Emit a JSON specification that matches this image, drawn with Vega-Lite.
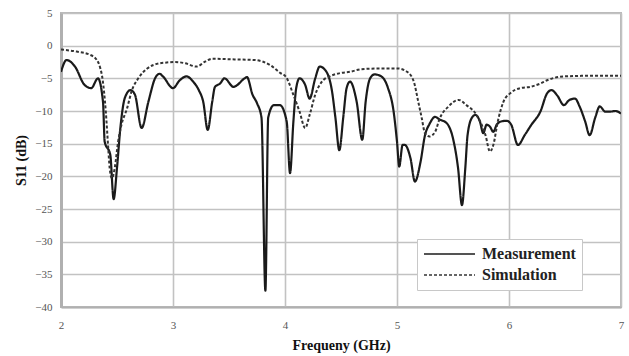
{
  "$schema": "https://vega.github.io/schema/vega-lite/v6.json",
  "width": 560,
  "height": 294,
  "autosize": "none",
  "padding": {"left": 61, "top": 13, "right": 8, "bottom": 49},
  "background": "white",
  "config": {
    "font": "Liberation Serif",
    "view": {"stroke": "#b8b8b8", "strokeWidth": 2},
    "axis": {
      "gridColor": "#c2c2c2",
      "gridWidth": 1.6,
      "gridOpacity": 1,
      "ticks": false,
      "domainColor": "#b0b0b0",
      "domainWidth": 3,
      "labelFont": "Liberation Serif",
      "labelFontSize": 11,
      "labelColor": "#555555",
      "labelOverlap": false,
      "labelFlush": false,
      "titleFont": "Liberation Serif",
      "titleFontSize": 14,
      "titleFontWeight": "bold",
      "titleColor": "#111111"
    }
  },
  "datasets": {
    "meas": [
      {"f": 2.00, "s": -4.0}, {"f": 2.05, "s": -2.2}, {"f": 2.125, "s": -3.2}, {"f": 2.21, "s": -6.0},
      {"f": 2.27, "s": -6.5}, {"f": 2.33, "s": -5.0}, {"f": 2.375, "s": -8.6}, {"f": 2.39, "s": -14.7},
      {"f": 2.44, "s": -16.7}, {"f": 2.47, "s": -23.5}, {"f": 2.50, "s": -18.7}, {"f": 2.53, "s": -12.6},
      {"f": 2.57, "s": -8.0}, {"f": 2.62, "s": -6.8}, {"f": 2.66, "s": -7.5}, {"f": 2.72, "s": -12.6},
      {"f": 2.78, "s": -8.6}, {"f": 2.84, "s": -5.0}, {"f": 2.88, "s": -4.3}, {"f": 2.91, "s": -4.7},
      {"f": 3.00, "s": -6.5}, {"f": 3.06, "s": -5.3}, {"f": 3.12, "s": -4.7}, {"f": 3.18, "s": -5.5},
      {"f": 3.23, "s": -6.8}, {"f": 3.27, "s": -8.6}, {"f": 3.31, "s": -12.9}, {"f": 3.35, "s": -8.6},
      {"f": 3.375, "s": -6.3}, {"f": 3.42, "s": -5.8}, {"f": 3.46, "s": -5.0}, {"f": 3.54, "s": -6.3},
      {"f": 3.64, "s": -5.0}, {"f": 3.66, "s": -4.8}, {"f": 3.71, "s": -7.5}, {"f": 3.75, "s": -8.8},
      {"f": 3.79, "s": -11.0}, {"f": 3.825, "s": -37.5}, {"f": 3.85, "s": -11.0}, {"f": 3.90, "s": -9.1},
      {"f": 3.955, "s": -9.1}, {"f": 4.015, "s": -11.6}, {"f": 4.045, "s": -19.5}, {"f": 4.075, "s": -11.6},
      {"f": 4.10, "s": -6.5}, {"f": 4.13, "s": -5.0}, {"f": 4.18, "s": -6.0}, {"f": 4.22, "s": -8.1},
      {"f": 4.27, "s": -5.0}, {"f": 4.31, "s": -3.2}, {"f": 4.37, "s": -4.0}, {"f": 4.42, "s": -7.0},
      {"f": 4.45, "s": -11.0}, {"f": 4.485, "s": -16.0}, {"f": 4.52, "s": -11.0}, {"f": 4.55, "s": -6.5},
      {"f": 4.58, "s": -5.5}, {"f": 4.64, "s": -8.6}, {"f": 4.69, "s": -14.4}, {"f": 4.72, "s": -8.6},
      {"f": 4.76, "s": -5.0}, {"f": 4.80, "s": -4.4}, {"f": 4.86, "s": -4.7}, {"f": 4.92, "s": -6.5},
      {"f": 4.97, "s": -10.1}, {"f": 5.00, "s": -14.7}, {"f": 5.02, "s": -18.5}, {"f": 5.05, "s": -15.2},
      {"f": 5.07, "s": -15.2}, {"f": 5.12, "s": -17.2}, {"f": 5.16, "s": -20.8}, {"f": 5.21, "s": -17.8},
      {"f": 5.25, "s": -13.7}, {"f": 5.29, "s": -12.0}, {"f": 5.34, "s": -10.9}, {"f": 5.38, "s": -11.3},
      {"f": 5.44, "s": -11.8}, {"f": 5.50, "s": -14.2}, {"f": 5.545, "s": -18.7}, {"f": 5.58, "s": -24.4},
      {"f": 5.61, "s": -18.7}, {"f": 5.63, "s": -13.7}, {"f": 5.67, "s": -11.0}, {"f": 5.70, "s": -10.6},
      {"f": 5.74, "s": -11.6}, {"f": 5.77, "s": -13.4}, {"f": 5.80, "s": -12.1}, {"f": 5.83, "s": -12.4},
      {"f": 5.86, "s": -13.2}, {"f": 5.89, "s": -12.1}, {"f": 5.93, "s": -11.6}, {"f": 5.98, "s": -11.5},
      {"f": 6.02, "s": -12.1}, {"f": 6.08, "s": -15.2}, {"f": 6.14, "s": -13.7}, {"f": 6.20, "s": -12.1},
      {"f": 6.28, "s": -10.1}, {"f": 6.34, "s": -7.3}, {"f": 6.38, "s": -6.8}, {"f": 6.43, "s": -7.6},
      {"f": 6.49, "s": -9.1}, {"f": 6.54, "s": -8.3}, {"f": 6.59, "s": -8.1}, {"f": 6.63, "s": -9.3},
      {"f": 6.68, "s": -11.6}, {"f": 6.72, "s": -13.7}, {"f": 6.77, "s": -11.0}, {"f": 6.81, "s": -9.3},
      {"f": 6.86, "s": -10.1}, {"f": 6.90, "s": -10.1}, {"f": 6.95, "s": -10.0}, {"f": 7.00, "s": -10.4}
    ],
    "sim": [
      {"f": 2.00, "s": -0.6}, {"f": 2.14, "s": -0.9}, {"f": 2.26, "s": -1.4}, {"f": 2.32, "s": -2.2},
      {"f": 2.35, "s": -3.4}, {"f": 2.37, "s": -5.0}, {"f": 2.40, "s": -10.1}, {"f": 2.42, "s": -15.2},
      {"f": 2.435, "s": -18.8}, {"f": 2.455, "s": -20.3}, {"f": 2.48, "s": -18.7}, {"f": 2.51, "s": -14.7},
      {"f": 2.54, "s": -12.1}, {"f": 2.59, "s": -9.6}, {"f": 2.63, "s": -7.0}, {"f": 2.69, "s": -5.0},
      {"f": 2.77, "s": -3.5}, {"f": 2.88, "s": -2.7}, {"f": 2.93, "s": -2.6}, {"f": 3.02, "s": -2.5},
      {"f": 3.11, "s": -2.7}, {"f": 3.21, "s": -3.2}, {"f": 3.29, "s": -2.4}, {"f": 3.35, "s": -2.0},
      {"f": 3.55, "s": -2.1}, {"f": 3.73, "s": -2.2}, {"f": 3.87, "s": -3.0}, {"f": 3.96, "s": -4.2},
      {"f": 4.01, "s": -4.8}, {"f": 4.07, "s": -7.3}, {"f": 4.13, "s": -10.1}, {"f": 4.18, "s": -12.6},
      {"f": 4.22, "s": -10.6}, {"f": 4.27, "s": -7.5}, {"f": 4.33, "s": -5.5}, {"f": 4.40, "s": -4.7},
      {"f": 4.49, "s": -4.2}, {"f": 4.58, "s": -4.0}, {"f": 4.68, "s": -3.6}, {"f": 4.83, "s": -3.5},
      {"f": 5.01, "s": -3.5}, {"f": 5.09, "s": -4.0}, {"f": 5.15, "s": -5.5}, {"f": 5.19, "s": -8.6},
      {"f": 5.22, "s": -11.0}, {"f": 5.25, "s": -13.4}, {"f": 5.29, "s": -13.9}, {"f": 5.34, "s": -13.2},
      {"f": 5.38, "s": -11.2}, {"f": 5.46, "s": -9.3}, {"f": 5.55, "s": -8.3}, {"f": 5.62, "s": -9.1},
      {"f": 5.71, "s": -10.6}, {"f": 5.79, "s": -13.7}, {"f": 5.83, "s": -16.2}, {"f": 5.86, "s": -15.2},
      {"f": 5.90, "s": -11.6}, {"f": 5.95, "s": -8.6}, {"f": 6.01, "s": -7.3}, {"f": 6.10, "s": -6.5},
      {"f": 6.19, "s": -6.3}, {"f": 6.28, "s": -5.8}, {"f": 6.34, "s": -5.3}, {"f": 6.49, "s": -4.7},
      {"f": 6.78, "s": -4.6}, {"f": 7.00, "s": -4.6}
    ]
  },
  "encoding": {
    "x": {
      "field": "f", "type": "quantitative",
      "scale": {"domain": [2, 7], "nice": false, "zero": false},
      "axis": {"values": [2, 3, 4, 5, 6, 7], "format": "d", "title": "Frequeny (GHz)", "labelPadding": 12, "titlePadding": 8, "domainWidth": 2, "labelOverlap": false, "labelFont": "Liberation Serif", "labelFontSize": 11, "labelColor": "#555555"}
    },
    "y": {
      "field": "s", "type": "quantitative",
      "scale": {"domain": [-40, 5], "nice": false, "zero": false},
      "axis": {"values": [-40, -35, -30, -25, -20, -15, -10, -5, 0, 5], "format": "d", "title": "S11 (dB)", "labelPadding": 9, "titlePadding": 6, "labelOverlap": false, "labelFont": "Liberation Serif", "labelFontSize": 11, "labelColor": "#555555"}
    },
    "color": {
      "field": "series", "type": "nominal",
      "scale": {"domain": ["Measurement", "Simulation"], "range": ["#1a1a1a", "#333333"]},
      "legend": {
        "title": null,
        "orient": "none",
        "legendX": 356,
        "legendY": 226,
        "fillColor": "white",
        "strokeColor": "#c8c8c8",
        "padding": 6,
        "symbolType": "stroke",
        "symbolSize": 2600,
        "symbolStrokeWidth": 1.6,
        "clipHeight": 18,
        "rowPadding": 3,
        "labelFont": "Liberation Serif",
        "labelFontSize": 16,
        "labelFontWeight": "bold",
        "labelColor": "#222222",
        "labelOffset": 6,
        "labelExpr": "datum.label + '\u00a0\u00a0\u00a0'"
      }
    },
    "strokeDash": {
      "field": "series", "type": "nominal",
      "scale": {"domain": ["Measurement", "Simulation"], "range": [[1, 0], [3, 2]]},
      "legend": null
    }
  },
  "layer": [
    {
      "data": {"name": "meas"},
      "transform": [{"calculate": "'Measurement'", "as": "series"}],
      "mark": {"type": "line", "strokeWidth": 2.2, "clip": true, "interpolate": "monotone"}
    },
    {
      "data": {"name": "sim"},
      "transform": [{"calculate": "'Simulation'", "as": "series"}],
      "mark": {"type": "line", "strokeWidth": 2, "clip": true, "interpolate": "monotone"}
    }
  ]
}
